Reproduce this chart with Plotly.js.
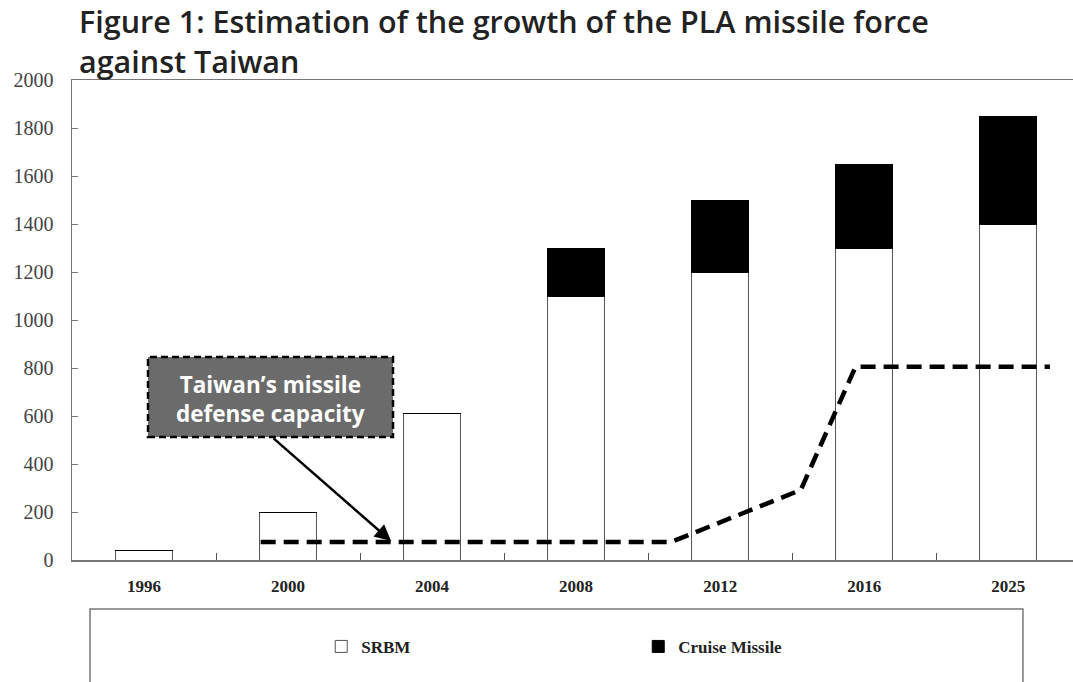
<!DOCTYPE html>
<html>
<head>
<meta charset="utf-8">
<script src="https://cdn.plot.ly/plotly-3.0.1.min.js"></script>
<style>html,body{margin:0;padding:0;background:#fff;}#chart{width:1073px;height:682px;}</style>
</head>
<body>
<div id="chart"></div>
<script>
// ---- data ----
const years = ['1996', '2000', '2004', '2008', '2012', '2016', '2025'];
const srbm = [40, 200, 610, 1100, 1200, 1300, 1400];
const cruise = [0, 0, 0, 200, 300, 350, 450];
// Taiwan's missile defense capacity (x in category-index units)
const defenseX = [0.81, 3.66, 4.56, 4.94, 6.29];
const defenseY = [75, 75, 292, 805, 805];
const yTicks = [0, 200, 400, 600, 800, 1000, 1200, 1400, 1600, 1800, 2000];

const idx = years.map((_, i) => i);
const boundaries = years.slice(1).map((_, i) => i + 0.5);

const traces = [
  {
    type: 'bar', name: 'SRBM', x: idx, y: srbm, width: 0.4,
    marker: { color: '#ffffff', line: { color: '#555555', width: 1 } }
  },
  {
    type: 'bar', name: 'Cruise Missile', x: idx, y: cruise, width: 0.4,
    marker: { color: '#000000', line: { color: '#000000', width: 1 } }
  },
  {
    type: 'scatter', mode: 'lines', x: defenseX, y: defenseY, showlegend: false,
    line: { color: '#000000', width: 4.5, dash: '15px,8px' }
  }
];

const serif = 'Liberation Serif, Times New Roman, serif';
const sans = 'Open Sans, Noto Sans, sans-serif';

const layout = {
  width: 1073, height: 682,
  paper_bgcolor: '#ffffff', plot_bgcolor: '#ffffff',
  margin: { l: 72, r: 0, t: 80, b: 122, pad: 0 },
  barmode: 'stack',
  title: {
    text: 'Figure 1: Estimation of the growth of the PLA missile force<br>against Taiwan',
    font: { family: sans, size: 30.5, color: '#222222', weight: 600 },
    x: 79 / 1073, xanchor: 'left', xref: 'container',
    y: 0.951, yanchor: 'top', yref: 'container'
  },
  xaxis: {
    range: [-0.5, 6.45], fixedrange: true,
    tickmode: 'array', tickvals: idx, ticktext: years,
    ticks: '', showgrid: false, zeroline: false,
    showline: true, linecolor: '#777777', linewidth: 1.5, mirror: true,
    tickfont: { family: serif, size: 17, color: '#222222', weight: 'bold' },
    ticklabelstandoff: 10,
    minor: { tickmode: 'array', tickvals: boundaries, ticks: 'inside', ticklen: 7, tickcolor: '#555555', tickwidth: 1, showgrid: false }
  },
  yaxis: {
    range: [0, 2000], fixedrange: true,
    tickmode: 'array', tickvals: yTicks,
    ticks: 'inside', ticklen: 6, tickcolor: '#777777', tickwidth: 1,
    showgrid: false, zeroline: false,
    showline: true, linecolor: '#777777', linewidth: 1.5,
    tickfont: { family: serif, size: 20, color: '#444444' },
    ticklabelstandoff: 13
  },
  legend: {
    orientation: 'h', x: 0.249, xanchor: 'left', y: -0.181, yanchor: 'middle',
    font: { family: serif, size: 17, color: '#222222', weight: 'bold' },
    bgcolor: 'rgba(0,0,0,0)', borderwidth: 0,
    entrywidth: 272, entrywidthmode: 'pixels', traceorder: 'normal'
  },
  shapes: [
    // legend frame
    { type: 'rect', xref: 'paper', yref: 'paper', x0: 0.018, x1: 0.950, y0: -0.102, y1: -0.32,
      line: { color: '#777777', width: 1.5 }, fillcolor: 'rgba(0,0,0,0)', layer: 'below' },
    // annotation box
    { type: 'rect', xref: 'paper', yref: 'paper',
      x0: (148 - 72) / 1001, x1: (393 - 72) / 1001, y0: (560 - 437) / 480, y1: (560 - 357) / 480,
      line: { color: '#000000', width: 2.5, dash: '7px,4px' }, fillcolor: '#6b6b6b', layer: 'above' }
  ],
  annotations: [
    { xref: 'paper', yref: 'paper', x: (270.5 - 72) / 1001, y: (560 - 399) / 480,
      xanchor: 'center', yanchor: 'middle', showarrow: false,
      text: 'Taiwan’s missile<br>defense capacity',
      font: { family: sans, size: 22.5, color: '#ffffff', weight: 'bold' } },
    { x: 1.715, y: 79, xref: 'x', yref: 'y', ax: 0.889, ay: 512, axref: 'x', ayref: 'y',
      text: '', showarrow: true, arrowhead: 2, arrowsize: 1.3, arrowwidth: 2.5, arrowcolor: '#000000' }
  ],
  showlegend: true
};

Plotly.newPlot('chart', traces, layout, { displayModeBar: false, staticPlot: true });
</script>
</body>
</html>
